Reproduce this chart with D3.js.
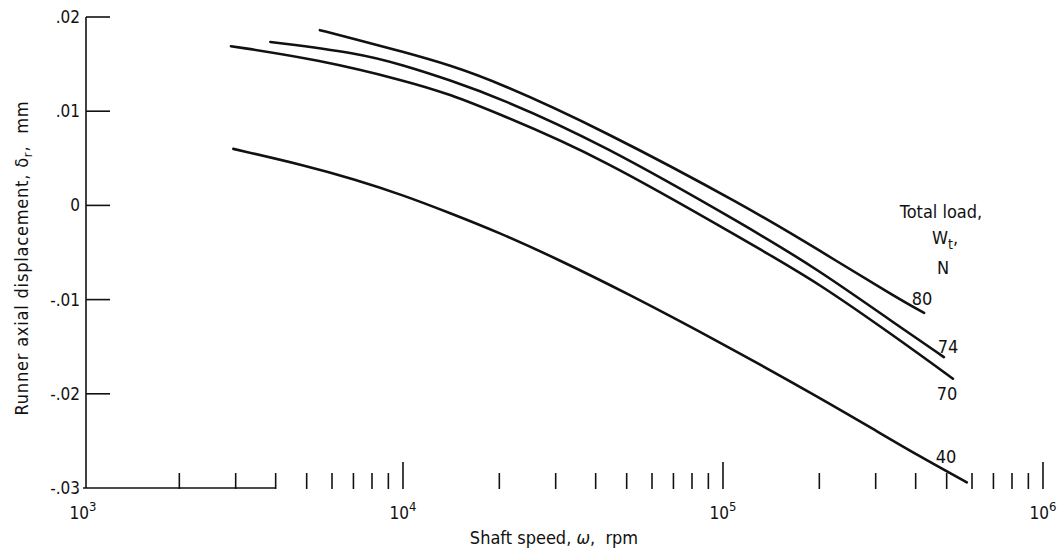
<!DOCTYPE html>
<html lang="en">
<head>
  <meta charset="utf-8">
  <title>Runner axial displacement</title>
  <script src="https://d3js.org/d3.v7.min.js"></script>
  <style>
    body { margin: 0; background: #fff; }
    text {
      font-family: "Liberation Sans Narrow", "DejaVu Sans Condensed", "Roboto Condensed", sans-serif;
      fill: #111;
    }
    .curve { fill: none; stroke: #111; stroke-width: 2.6; stroke-linecap: round; }
    .axis-line { stroke: #111; stroke-width: 1.6; fill: none; }
  </style>
</head>
<body>
  <div id="chart"></div>
  <script>
    var w = 1062;
    var h = 553;

    // total load series, N
    var loads = ['80', '74', '70', '40'];
    // shaft speed (rpm) and displacement (mm)
    var speed80 = [5500, 7000, 10000, 14000, 20000, 41000, 121000, 196000, 357000, 425000];
    var disp80 = [0.0186, 0.0177, 0.0163, 0.0149, 0.0130, 0.0082, -0.0003, -0.0046, -0.0100, -0.0114];
    var speed74 = [3850, 7170, 10000, 14000, 20000, 41000, 121000, 196000, 357000, 490000];
    var disp74 = [0.01735, 0.0162, 0.0149, 0.0133, 0.0114, 0.0067, -0.0024, -0.0067, -0.0129, -0.0161];
    var speed70 = [2900, 5400, 10270, 14000, 20000, 41000, 121000, 196000, 357000, 523000];
    var disp70 = [0.0169, 0.0155, 0.0132, 0.0118, 0.0097, 0.0052, -0.0040, -0.0081, -0.0143, -0.0184];
    var speed40 = [2950, 5000, 7000, 10000, 14000, 20000, 30000, 50000, 100000, 200000, 300000, 400000, 578000];
    var disp40 = [0.0060, 0.0042, 0.0028, 0.0011, -0.0008, -0.0029, -0.0056, -0.0093, -0.0147, -0.0204, -0.0239, -0.0264, -0.0294];

    var yTicks = [0.02, 0.01, 0, -0.01, -0.02, -0.03];
    var yTickLabels = ['.02', '.01', '0', '-.01', '-.02', '-.03'];
    var xDecades = [1e3, 1e4, 1e5, 1e6];
    var xDecadeExp = ['3', '4', '5', '6'];

    var svg = d3.select('#chart').append('svg')
      .attr('width', w)
      .attr('height', h);

    var x = d3.scaleLog().domain([1e3, 1e6]).range([83, 1043]);
    var y = d3.scaleLinear().domain([-0.03, 0.02]).range([488, 17]);

    var axisX = 86; // vertical axis line

    // y axis line and ticks
    svg.append('line').attr('class', 'axis-line')
      .attr('x1', axisX).attr('x2', axisX)
      .attr('y1', y(0.02)).attr('y2', y(-0.03));
    svg.selectAll('line.ytick')
      .data(yTicks.slice(0, 5))
      .enter().append('line')
      .attr('class', 'axis-line ytick')
      .attr('x1', axisX)
      .attr('x2', axisX + 24)
      .attr('y1', function (d) { return y(d); })
      .attr('y2', function (d) { return y(d); });
    svg.selectAll('text.ylab')
      .data(yTicks)
      .enter().append('text')
      .attr('class', 'ylab')
      .attr('x', 80)
      .attr('y', function (d) { return y(d); })
      .attr('dy', '0.35em')
      .attr('text-anchor', 'end')
      .style('font-size', '17px')
      .text(function (d, i) { return yTickLabels[i]; });

    // x axis: short baseline, then ticks only
    svg.append('line').attr('class', 'axis-line')
      .attr('x1', x(1e3)).attr('x2', x(4000))
      .attr('y1', y(-0.03)).attr('y2', y(-0.03));

    var minor = [];
    [1e3, 1e4, 1e5].forEach(function (dec) {
      for (var k = 2; k <= 9; k++) minor.push(dec * k);
    });
    svg.selectAll('line.xminor')
      .data(minor)
      .enter().append('line')
      .attr('class', 'axis-line xminor')
      .attr('x1', function (d) { return x(d); })
      .attr('x2', function (d) { return x(d); })
      .attr('y1', y(-0.03) + 1)
      .attr('y2', y(-0.03) - 15);
    svg.selectAll('line.xmajor')
      .data(xDecades.slice(1))
      .enter().append('line')
      .attr('class', 'axis-line xmajor')
      .attr('x1', function (d) { return x(d); })
      .attr('x2', function (d) { return x(d); })
      .attr('y1', y(-0.03) + 1)
      .attr('y2', y(-0.03) - 26);

    var xl = svg.selectAll('text.xlab')
      .data(xDecades)
      .enter().append('text')
      .attr('class', 'xlab')
      .attr('x', function (d) { return x(d); })
      .attr('y', 519)
      .attr('text-anchor', 'middle')
      .style('font-size', '17px');
    xl.append('tspan').text('10');
    xl.append('tspan')
      .attr('dy', -8)
      .style('font-size', '13px')
      .text(function (d, i) { return xDecadeExp[i]; });

    // axis titles
    svg.append('text')
      .attr('x', 554).attr('y', 544)
      .attr('text-anchor', 'middle')
      .style('font-size', '18px')
      .html('Shaft speed, <tspan font-style="italic">\u03c9</tspan>,&#160; rpm');

    var yt = svg.append('text')
      .attr('transform', 'translate(28,258) rotate(-90)')
      .attr('text-anchor', 'middle')
      .style('font-size', '18px')
      .style('letter-spacing', '0.8px');
    yt.append('tspan').text('Runner axial displacement, \u03b4');
    yt.append('tspan').attr('dy', 4).style('font-size', '13px').text('r');
    yt.append('tspan').attr('dy', -4).text(',\u00a0 mm');

    // curves
    var series = [
      { load: loads[0], xs: speed80, ys: disp80 },
      { load: loads[1], xs: speed74, ys: disp74 },
      { load: loads[2], xs: speed70, ys: disp70 },
      { load: loads[3], xs: speed40, ys: disp40 }
    ];
    var line = d3.line()
      .x(function (d) { return x(d[0]); })
      .y(function (d) { return y(d[1]); })
      .curve(d3.curveBasis);
    svg.selectAll('path.curve')
      .data(series)
      .enter().append('path')
      .attr('class', 'curve')
      .attr('d', function (s) {
        return line(s.xs.map(function (v, i) { return [v, s.ys[i]]; }));
      });

    // curve labels
    var labelPos = [[922, 305], [948, 353], [947, 400], [946, 463]];
    svg.selectAll('text.clab')
      .data(series)
      .enter().append('text')
      .attr('class', 'clab')
      .attr('x', function (d, i) { return labelPos[i][0]; })
      .attr('y', function (d, i) { return labelPos[i][1]; })
      .attr('text-anchor', 'middle')
      .style('font-size', '18px')
      .text(function (d) { return d.load; });

    // legend title
    svg.append('text')
      .attr('x', 941).attr('y', 218)
      .attr('text-anchor', 'middle')
      .style('font-size', '18px')
      .text('Total load,');
    var wt = svg.append('text')
      .attr('x', 945).attr('y', 244)
      .attr('text-anchor', 'middle')
      .style('font-size', '18px');
    wt.append('tspan').text('W');
    wt.append('tspan').attr('dy', 5).style('font-size', '14px').text('t');
    wt.append('tspan').attr('dy', -5).text(',');
    svg.append('text')
      .attr('x', 943).attr('y', 274)
      .attr('text-anchor', 'middle')
      .style('font-size', '18px')
      .text('N');
  </script>
</body>
</html>
